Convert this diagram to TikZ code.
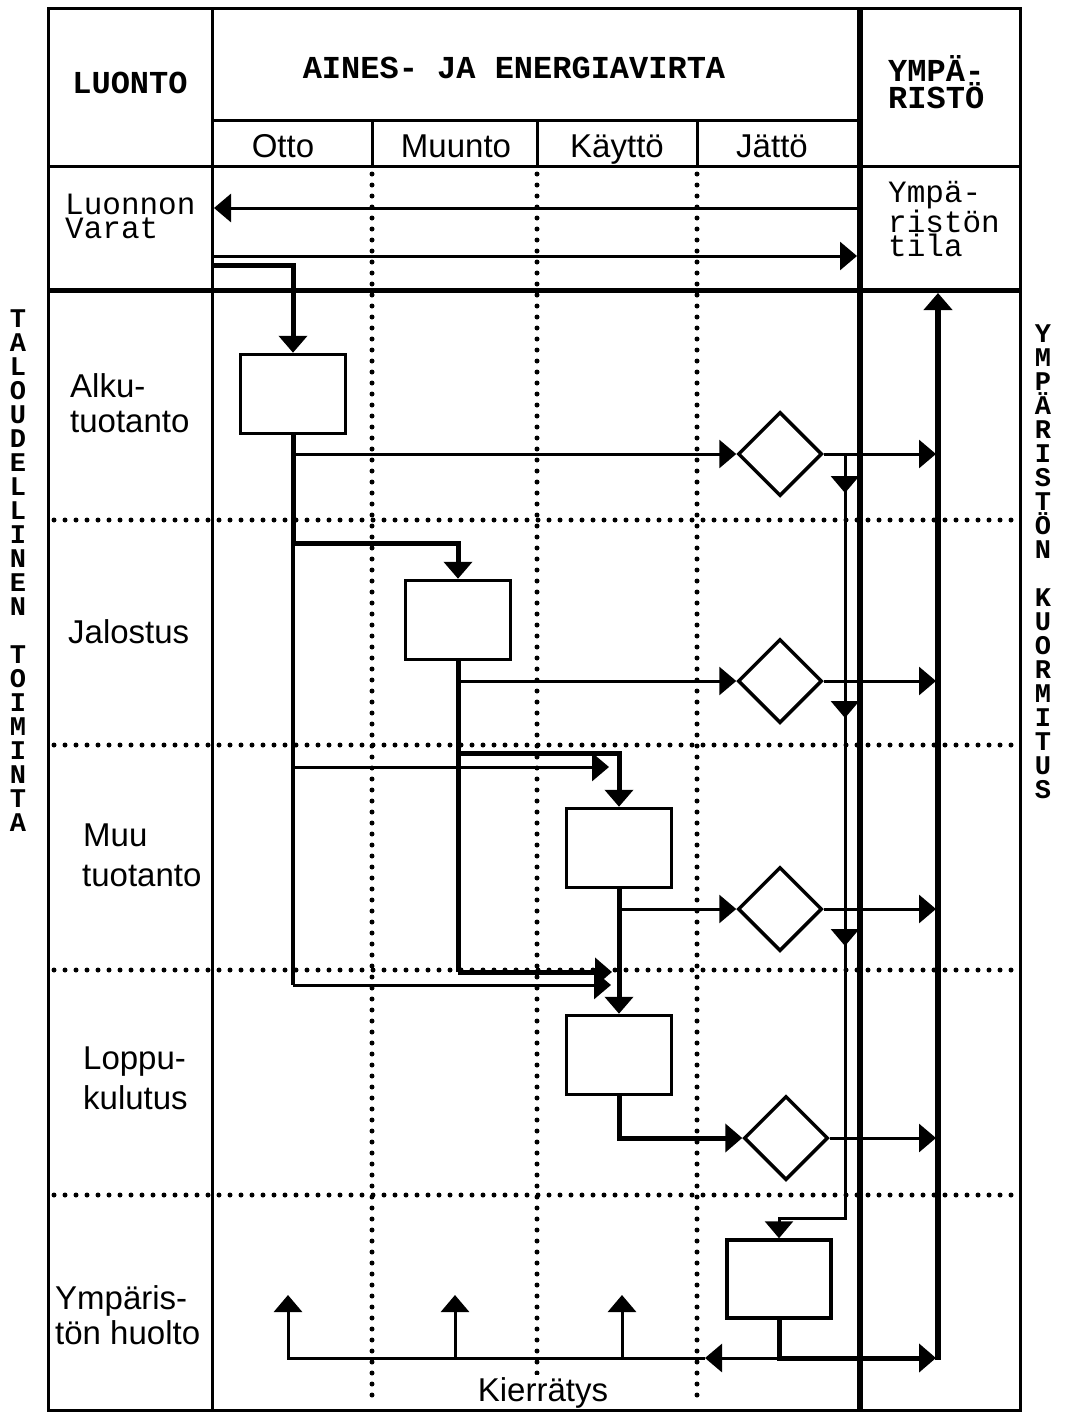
\documentclass[tikz,border=0pt]{standalone}
\usepackage{fontspec}
\setmainfont{Liberation Sans}
\newfontfamily\monofam{Liberation Mono}
\usetikzlibrary{arrows.meta,shapes.geometric}
\begin{document}
\begin{tikzpicture}[x=1pt,y=-1pt,
  frame/.style={line width=3pt},
  heavy/.style={line width=5pt},
  flow/.style={line width=3pt},
  dotline/.style={line width=5pt,dash pattern=on 0pt off 11pt,line cap=round},
  arr/.style={-{Triangle[length=17pt,width=28pt]}},
  box/.style={draw,line width=3.5pt,minimum width=105pt,minimum height=79pt,inner sep=0pt},
  dia/.style={draw,diamond,line width=3.5pt,minimum width=84pt,minimum height=84pt,inner sep=0pt},
  sans/.style={font=\fontsize{33}{35}\selectfont,align=left,inner sep=0pt},
  monob/.style={font=\monofam\bfseries\fontsize{32}{25}\selectfont,align=left,inner sep=0pt},
  monor/.style={font=\monofam\fontsize{31}{24}\selectfont,align=left,inner sep=0pt},
  vert/.style={font=\monofam\bfseries\fontsize{27}{24}\selectfont,align=center,inner sep=0pt},
]
\fill[white] (0,0) rectangle (1067,1414);
\useasboundingbox (0,0) rectangle (1067,1414);

% dotted grid
\foreach \y in {520,745,970,1195} \draw[dotline] (54,\y) -- (1016,\y);
\foreach \x in {372,537,697} \draw[dotline] (\x,174) -- (\x,1406);

% recycling label (masks the dotted line behind it)
\node[sans,anchor=base,fill=white,inner sep=2pt] (kierr) at (543,1401) {Kierrätys};

% frame
\draw[frame] (48,8) rectangle (1020,1410);
\draw[frame] (212,8) -- (212,1410);
\draw[frame] (212,120) -- (860,120);
\draw[frame] (48,166) -- (1020,166);
\foreach \x in {372,537,697} \draw[frame] (\x,120) -- (\x,166);
\draw[heavy] (48,290) -- (1020,290);
\draw[line width=5.5pt] (860,8) -- (860,1410);

% header texts
\node[monob] (luonto) at (130,83) {LUONTO};
\node[monob] (aines) at (514,68) {AINES- JA ENERGIAVIRTA};
\node[monob,anchor=west] (ymp) at (888,82) {YMPÄ-\\RISTÖ};
\node[sans,anchor=base] (otto) at (283,157) {Otto};
\node[sans,anchor=base] (muunto) at (456,157) {Muunto};
\node[sans,anchor=base] (kaytto) at (617,157) {Käyttö};
\node[sans,anchor=base] (jatto) at (772,157) {Jättö};
\node[monor,anchor=west] (lv) at (65,216) {Luonnon\\Varat};
\node[monor,anchor=west] (yt) at (888,219) {Ympä-\\ristön\\tila};

% row labels
\node[sans,anchor=west] (r1) at (70,403) {Alku-\\tuotanto};
\node[sans,anchor=west] (r2) at (68,632) {Jalostus};
\node[sans,anchor=west,font=\fontsize{33}{40}\selectfont] (r3) at (82,855) {\hspace*{1pt}Muu\\tuotanto};
\node[sans,anchor=west,font=\fontsize{33}{40}\selectfont] (r4) at (83,1078) {Loppu-\\kulutus};
\node[sans,anchor=west] (r5) at (55,1315) {Ympäris-\\tön huolto};

% vertical side texts
\node[vert] (vl) at (18,571) {T\\A\\L\\O\\U\\D\\E\\L\\L\\I\\N\\E\\N\\~\\T\\O\\I\\M\\I\\N\\T\\A};
\node[vert] (vr) at (1043,562) {Y\\M\\P\\Ä\\R\\I\\S\\T\\Ö\\N\\~\\K\\U\\O\\R\\M\\I\\T\\U\\S};

% boxes and diamonds
\node[box] (b1) at (293,394) {};
\node[box] (b2) at (458,620) {};
\node[box] (b3) at (619,848) {};
\node[box] (b4) at (619,1055) {};
\node[box,minimum width=104pt,minimum height=78pt] (b5) at (779,1279) {};
\node[dia] (d1) at (780,454) {};
\node[dia] (d2) at (780,681) {};
\node[dia] (d3) at (780,909) {};
\node[dia] (d4) at (786,1138) {};

% coordinates
\coordinate (lvA) at (858,208);
\coordinate (lvB) at (214,208);
\coordinate (lvC) at (214,256);
\coordinate (lvD) at (857,256);
\coordinate (feed) at (214,265);
\coordinate (j1) at (293,543);
\coordinate (j1b) at (293,985);
\coordinate (e4a) at (611,985);
\coordinate (s3) at (293,767);
\coordinate (e3a) at (609,767);
\coordinate (j2) at (458,753);
\coordinate (j3) at (619,753);
\coordinate (j2b) at (458,972);
\coordinate (e4b) at (612,972);
\coordinate (K) at (936,290);
\coordinate (Kbot) at (938,1360);
\coordinate (Ktop) at (938,293);
\coordinate (c0) at (845,454);
\coordinate (c1) at (845,1218);
\coordinate (kb) at (779,1358);
\coordinate (kl) at (705,1358);
\coordinate (kr) at (936,1358);
\coordinate (u1) at (288,1295);
\coordinate (u2a) at (455,1358);
\coordinate (u2) at (455,1295);
\coordinate (u3a) at (622,1358);
\coordinate (u3) at (622,1295);

% Luonnon varat arrows
\draw[flow,arr] (lvA) -- (lvB);
\draw[flow,arr] (lvC) -- (lvD);
\draw[heavy,arr] (feed) -| (b1.north);

% b1
\draw[heavy,arr] (b1.south) -- (j1) -| (b2.north);
\draw[line width=3.5pt] (j1) -- (j1b);
\draw[flow,arr] (j1b) -- (e4a);
\draw[flow,arr] (s3) -- (e3a);
\draw[flow,arr] (b1.south |- d1.west) -- (d1.west);

% b2
\draw[heavy] (b2.south) -- (j2b);
\draw[heavy,arr] (j2b) -- (e4b);
\draw[heavy,arr] (j2) -- (j3) -- (b3.north);
\draw[flow,arr] (b2.south |- d2.west) -- (d2.west);

% b3, b4
\draw[heavy,arr] (b3.south) -- (b4.north);
\draw[flow,arr] (b3.south |- d3.west) -- (d3.west);
\draw[heavy,arr] (b4.south) |- (d4.west);

% diamond outputs
\draw[flow,arr] (d1.east) -- (d1.east -| K);
\draw[flow,arr] (d2.east) -- (d2.east -| K);
\draw[flow,arr] (d3.east) -- (d3.east -| K);
\draw[flow,arr] (d4.east) -- (d4.east -| K);

% collector to b5
\draw[flow,arr] (c0) -- (c1) -| (b5.north);
\foreach \ya in {472,697,925} \draw[flow,arr] (845,\ya) -- (845,\ya+21);

% b5 output and environment line
\draw[heavy,arr] (b5.south) |- (kr);
\draw[line width=5.5pt,arr] (Kbot) -- (Ktop);

% recycling
\draw[flow,arr] (kb) -- (kl);
\draw[flow,arr] (kl) -| (u1);
\draw[flow,arr] (u2a) -- (u2);
\draw[flow,arr] (u3a) -- (u3);
\end{tikzpicture}
\end{document}
